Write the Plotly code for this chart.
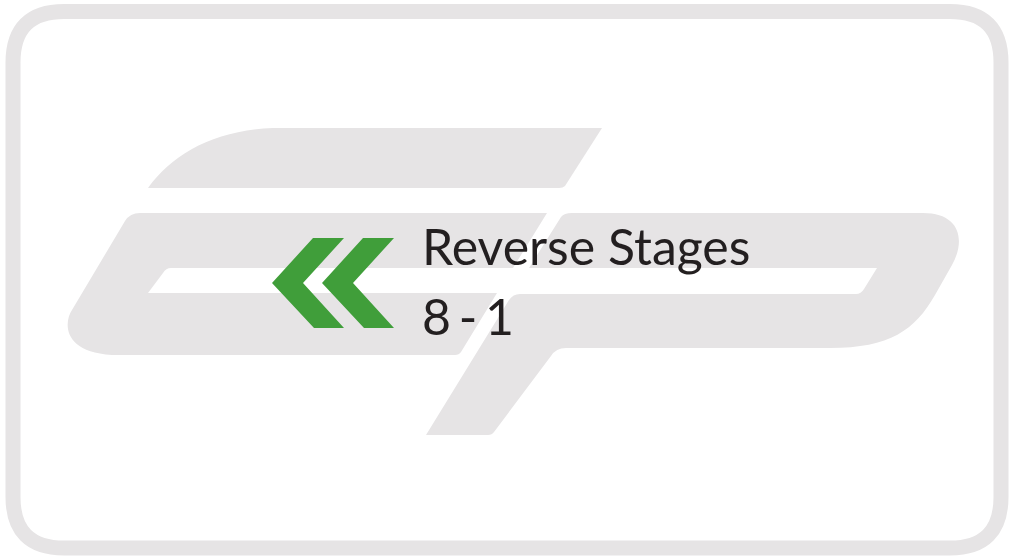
import plotly.graph_objects as go

# ---- canvas ----
W, H = 1009, 558

# ---- colours ----
GRAY = "#e6e4e5"
GREEN = "#409e3a"
TEXT_COLOR = "#231f20"

# ---- text ----
title_line = "Reverse Stages"
stage_parts = ["8", "-", "1"]

# ---- frame (rounded rectangle centre-line) ----
frame_left, frame_right, frame_top, frame_bottom = 13, 1001, 11.5, 548
frame_radius = 51
frame_width = 15

# ---- logo path segments (pixel space, y downward) ----
g_top_bar = [
    ("M", [148, 188]),
    ("C", [172, 154, 215, 130, 273, 128]),
    ("L", [602, 128]),
    ("L", [565, 186]),
    ("Q", [563, 188, 559, 188]),
]

g_body = [
    ("M", [140, 213]),
    ("L", [547, 213]),
    ("L", [513, 268]),
    ("L", [171, 268]),
    ("Q", [166, 268, 163, 273]),
    ("L", [148, 293]),
    ("L", [497, 293]),
    ("L", [461, 352]),
    ("Q", [459, 355, 455, 355]),
    ("L", [112, 355]),
    ("C", [62, 352, 64, 322, 72, 310]),
    ("L", [125, 221]),
    ("Q", [130, 213, 140, 213]),
]

p_body = [
    ("M", [572, 213]),
    ("L", [923, 213]),
    ("C", [960, 213, 966, 240, 952, 265]),
    ("L", [935, 295]),
    ("C", [915, 330, 890, 348, 830, 348]),
    ("L", [566, 348]),
    ("Q", [556, 348, 551, 356]),
    ("L", [494, 432]),
    ("Q", [492, 435, 488, 435]),
    ("L", [426, 435]),
    ("L", [509, 300]),
    ("Q", [513, 294, 520, 294]),
    ("L", [856, 294]),
    ("Q", [861, 294, 864, 289]),
    ("L", [877, 268]),
    ("L", [529, 268]),
    ("L", [561, 217]),
    ("Q", [564, 213, 572, 213]),
]

chevron_x = [313, 344, 303, 344, 314, 272]
chevron_y = [238, 238, 283, 328, 328, 283]
chevron_offsets = [0, 50]


def seg_path(segs):
    parts = []
    for cmd, pts in segs:
        parts.append(cmd + " " + " ".join(
            f"{pts[i]},{pts[i+1]}" for i in range(0, len(pts), 2)))
    return " ".join(parts) + " Z"


def rounded_rect(l, r, t, b, rad):
    return (f"M {l+rad},{t} L {r-rad},{t} Q {r},{t} {r},{t+rad} "
            f"L {r},{b-rad} Q {r},{b} {r-rad},{b} L {l+rad},{b} "
            f"Q {l},{b} {l},{b-rad} L {l},{t+rad} Q {l},{t} {l+rad},{t} Z")


shapes = []
# frame
shapes.append(dict(type="path", xref="x", yref="y",
                   path=rounded_rect(frame_left, frame_right, frame_top,
                                     frame_bottom, frame_radius),
                   line=dict(color=GRAY, width=frame_width),
                   fillcolor="rgba(0,0,0,0)"))
# logo pieces
for segs in (g_top_bar, g_body, p_body):
    shapes.append(dict(type="path", xref="x", yref="y", path=seg_path(segs),
                       fillcolor=GRAY, line=dict(width=0)))
# chevrons
for off in chevron_offsets:
    pts = " L ".join(f"{x+off},{y}" for x, y in zip(chevron_x, chevron_y))
    shapes.append(dict(type="path", xref="x", yref="y", path="M " + pts + " Z",
                       fillcolor=GREEN, line=dict(width=0)))

fig = go.Figure()
fig.add_trace(go.Scatter(x=[0, W], y=[0, H], mode="markers",
                         marker=dict(opacity=0), hoverinfo="skip",
                         showlegend=False))

narrow_space = "<span style='font-size:30px'> </span>"
stage_line = narrow_space.join(stage_parts)

font = dict(family="Lato", size=50, color=TEXT_COLOR)
annotations = [
    dict(x=420, y=246, xref="x", yref="y", text=title_line, showarrow=False,
         xanchor="left", yanchor="middle", font=font),
    dict(x=420, y=316, xref="x", yref="y", text=stage_line, showarrow=False,
         xanchor="left", yanchor="middle", font=font),
]

fig.update_layout(
    width=W, height=H, autosize=False,
    margin=dict(l=0, r=0, t=0, b=0),
    paper_bgcolor="white", plot_bgcolor="white",
    xaxis=dict(range=[0, W], visible=False, fixedrange=True),
    yaxis=dict(range=[H, 0], visible=False, fixedrange=True),
    shapes=shapes, annotations=annotations, showlegend=False,
)

fig.write_html(
    "out.html",
    config={"displayModeBar": False, "staticPlot": True},
    post_script="document.body.style.margin='0';"
                "document.body.style.overflow='hidden';",
)
